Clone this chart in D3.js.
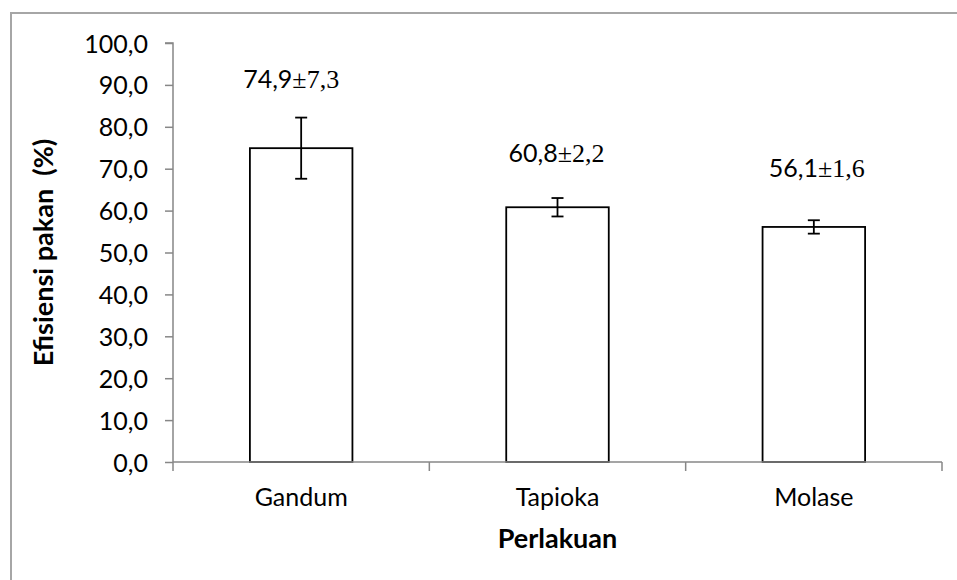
<!DOCTYPE html>
<html>
<head>
<meta charset="utf-8">
<script src="https://cdn.jsdelivr.net/npm/d3@7/dist/d3.min.js"></script>
<style>
  html, body { margin: 0; padding: 0; background: #fff; }
  svg { display: block; }
</style>
</head>
<body>
<svg id="chart" width="957" height="580"></svg>
<script>
const categories = ["Gandum", "Tapioka", "Molase"];
const means = [74.9, 60.8, 56.1];
const errors = [7.3, 2.2, 1.6];
const meanLabels = ["74,9", "60,8", "56,1"];
const errorLabels = ["±7,3", "±2,2", "±1,6"];
const yTicks = [0, 10, 20, 30, 40, 50, 60, 70, 80, 90, 100];
const yTitle = "Efisiensi pakan (%)";
const xTitle = "Perlakuan";

const W = 957, H = 580;
const svg = d3.select("#chart");
const sansFont = "Lato, 'Open Sans', sans-serif";
const serifFont = "'Liberation Serif', 'DejaVu Serif', serif";
const axisColor = "#878787";

// outer chart border (extends past right/bottom of view)
svg.append("rect")
  .attr("x", 11).attr("y", 13)
  .attr("width", W + 20).attr("height", H + 20)
  .attr("fill", "#fff")
  .attr("stroke", "#a6a6a6").attr("stroke-width", 2);

const plot = { left: 173, right: 942, top: 43, bottom: 462 };

const x = d3.scaleBand().domain(categories)
  .range([plot.left, plot.right]).paddingInner(0.6).paddingOuter(0.3);
const y = d3.scaleLinear().domain([0, 100]).range([plot.bottom, plot.top]);

const fmt = v => v.toFixed(1).replace(".", ",");

// y axis
const yAxis = d3.axisLeft(y).tickValues(yTicks).tickSize(8).tickPadding(17).tickFormat(fmt);
const gy = svg.append("g").attr("transform", `translate(${plot.left},0)`).call(yAxis);
gy.select(".domain").attr("stroke", axisColor).attr("stroke-width", 1.5)
  .attr("d", `M-8,${plot.top}H0V${plot.bottom}`);
gy.selectAll(".tick line").attr("stroke", axisColor).attr("stroke-width", 1.5);
gy.selectAll(".tick text").attr("font-family", sansFont).attr("font-size", 25)
  .attr("fill", "#000").attr("dy", "0.36em");

// x axis (category boundaries as ticks)
const boundaries = d3.range(categories.length + 1).map(i => plot.left + i * (plot.right - plot.left) / categories.length);
const gx = svg.append("g");
gx.selectAll("line.bt").data(boundaries).join("line").attr("class", "bt")
  .attr("x1", d => d).attr("x2", d => d)
  .attr("y1", plot.bottom).attr("y2", plot.bottom + 9)
  .attr("stroke", axisColor).attr("stroke-width", 1.5);
gx.selectAll("text.cat").data(categories).join("text").attr("class", "cat")
  .attr("x", d => x(d) + x.bandwidth() / 2).attr("y", 506)
  .attr("text-anchor", "middle")
  .attr("font-family", sansFont).attr("font-size", 25).attr("fill", "#000")
  .text(d => d);

// bars
svg.selectAll("rect.bar").data(categories).join("rect").attr("class", "bar")
  .attr("x", d => x(d)).attr("width", x.bandwidth())
  .attr("y", (d, i) => y(means[i]))
  .attr("height", (d, i) => y(0) - y(means[i]))
  .attr("fill", "#fff").attr("stroke", "#000").attr("stroke-width", 1.8);

// baseline drawn over bar bottoms
svg.append("line").attr("x1", plot.left).attr("x2", plot.right)
  .attr("y1", plot.bottom).attr("y2", plot.bottom)
  .attr("stroke", axisColor).attr("stroke-width", 1.5);

// error bars
const cap = 6;
const eg = svg.append("g").attr("stroke", "#000").attr("stroke-width", 1.8);
categories.forEach((c, i) => {
  const cx = x(c) + x.bandwidth() / 2;
  const y1 = y(means[i] + errors[i]), y2 = y(means[i] - errors[i]);
  eg.append("line").attr("x1", cx).attr("x2", cx).attr("y1", y1).attr("y2", y2);
  eg.append("line").attr("x1", cx - cap).attr("x2", cx + cap).attr("y1", y1).attr("y2", y1);
  eg.append("line").attr("x1", cx - cap).attr("x2", cx + cap).attr("y1", y2).attr("y2", y2);
});

// value labels (manually placed text boxes in the original)
const labelRise = [30, 36, 43];
const labelShift = [-10, -1, 3];
categories.forEach((c, i) => {
  const cx = x(c) + x.bandwidth() / 2 + labelShift[i];
  const t = svg.append("text")
    .attr("x", cx).attr("y", y(means[i] + errors[i]) - labelRise[i])
    .attr("text-anchor", "middle").attr("fill", "#000");
  t.append("tspan").attr("font-family", sansFont).attr("font-size", 25).text(meanLabels[i]);
  t.append("tspan").attr("font-family", serifFont).attr("font-size", 26).text(errorLabels[i]);
});

// axis titles
svg.append("text")
  .attr("transform", `translate(53,${(plot.top + plot.bottom) / 2}) rotate(-90)`)
  .attr("text-anchor", "middle")
  .attr("font-family", sansFont).attr("font-size", 27).attr("font-weight", "bold")
  .attr("fill", "#000").style("white-space", "pre")
  .text(yTitle.replace(" (", "  ("));

svg.append("text")
  .attr("x", (plot.left + plot.right) / 2).attr("y", 548)
  .attr("text-anchor", "middle")
  .attr("font-family", sansFont).attr("font-size", 27).attr("font-weight", "bold")
  .attr("fill", "#000")
  .text(xTitle);
</script>
</body>
</html>
